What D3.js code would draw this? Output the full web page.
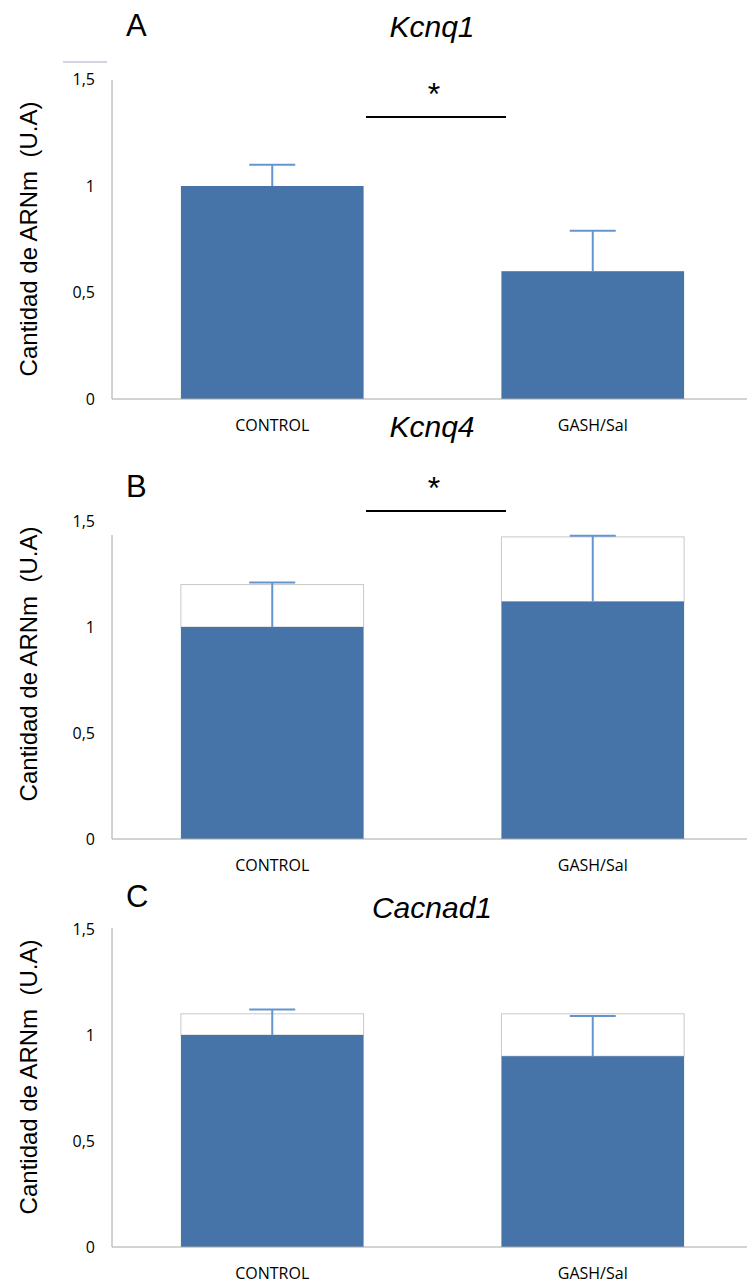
<!DOCTYPE html>
<html>
<head>
<meta charset="utf-8">
<script src="https://cdn.jsdelivr.net/npm/d3@7"></script>
<style>
  body { margin: 0; background: #fff; }
  svg text { font-family: "Liberation Sans", Arial, sans-serif; }
  .tick-lbl, .cat-lbl { font-family: "Open Sans", sans-serif; }
</style>
</head>
<body>
<div id="canvas"></div>
<script>
var categories = ['CONTROL', 'GASH/Sal'];
var genes = ['Kcnq1', 'Kcnq4', 'Cacnad1'];
var letters = ['A', 'B', 'C'];
var yTicks = [0, 0.5, 1, 1.5];
var yTickLabels = ['0', '0,5', '1', '1,5'];
var yLabel = 'Cantidad de ARNm  (U.A)';

var kcnq1Means = [1.0, 0.6];
var kcnq1Errors = [0.1, 0.19];
var kcnq1Boxes = [null, null];

var kcnq4Means = [1.0, 1.12];
var kcnq4Errors = [0.21, 0.31];
var kcnq4Boxes = [1.2, 1.425];

var cacnad1Means = [1.0, 0.9];
var cacnad1Errors = [0.12, 0.19];
var cacnad1Boxes = [1.1, 1.1];

var significant = [true, true, false];

var width = 747;
var height = 1285;
var axisX = 112;
var barBlue = '#4674a8';
var errBlue = '#6396cf';
var axisGray = '#a6a6a6';

// per panel layout (pixel geometry)
var panels = [
    {means: kcnq1Means, errors: kcnq1Errors, boxes: kcnq1Boxes, base: 399, top15: 79.5, axisTop: 80,
     letterY: 36, titleY: 37, starY: 105, sigY: 117, labelY: 239},
    {means: kcnq4Means, errors: kcnq4Errors, boxes: kcnq4Boxes, base: 839, top15: 521, axisTop: 535,
     letterY: 497, titleY: 437, starY: 499, sigY: 511, labelY: 664},
    {means: cacnad1Means, errors: cacnad1Errors, boxes: cacnad1Boxes, base: 1247, top15: 929, axisTop: 928,
     letterY: 907, titleY: 918, starY: null, sigY: null, labelY: 1077}
];

var svg = d3.select('#canvas')
    .append('svg')
    .attr('width', width)
    .attr('height', height);

var x = d3.scaleBand()
    .domain(categories)
    .range([axisX, 753])
    .paddingInner(0.43)
    .paddingOuter(0.215);

// stray line above panel A
svg.append('line')
    .attr('x1', 63).attr('x2', 107)
    .attr('y1', 62).attr('y2', 62)
    .style('stroke', '#a3abc0')
    .style('stroke-width', 1);

panels.forEach(function (p, i) {
    var y = d3.scaleLinear().domain([0, 1.5]).range([p.base, p.top15]);
    var g = svg.append('g');

    // white boxes (mean to mean + error)
    categories.forEach(function (c, j) {
        if (p.boxes[j] == null) return;
        g.append('rect')
            .attr('x', x(c))
            .attr('y', y(p.boxes[j]))
            .attr('width', x.bandwidth())
            .attr('height', y(p.means[j]) - y(p.boxes[j]))
            .style('fill', '#fff')
            .style('stroke', '#c8c8c8')
            .style('stroke-width', 1);
    });

    // bars
    g.selectAll('.bar')
        .data(categories)
        .enter()
        .append('rect')
        .attr('x', function (c) { return x(c); })
        .attr('y', function (c, j) { return y(p.means[j]); })
        .attr('width', x.bandwidth())
        .attr('height', function (c, j) { return y(0) - y(p.means[j]); })
        .style('fill', barBlue);

    // error bars
    categories.forEach(function (c, j) {
        var cx = x(c) + x.bandwidth() / 2;
        var yTop = y(p.means[j] + p.errors[j]);
        g.append('line')
            .attr('x1', cx).attr('x2', cx)
            .attr('y1', y(p.means[j])).attr('y2', yTop)
            .style('stroke', errBlue)
            .style('stroke-width', 2);
        g.append('line')
            .attr('x1', cx - 23).attr('x2', cx + 23)
            .attr('y1', yTop).attr('y2', yTop)
            .style('stroke', errBlue)
            .style('stroke-width', 2);
    });

    // axes
    g.append('line')
        .attr('x1', axisX).attr('x2', axisX)
        .attr('y1', p.axisTop).attr('y2', y(0))
        .style('stroke', axisGray)
        .style('stroke-width', 1);
    g.append('line')
        .attr('x1', axisX).attr('x2', width)
        .attr('y1', y(0)).attr('y2', y(0))
        .style('stroke', axisGray)
        .style('stroke-width', 1);

    g.selectAll('.tick-lbl')
        .data(yTicks)
        .enter()
        .append('text')
        .attr('class', 'tick-lbl')
        .attr('x', 95)
        .attr('y', function (d) { return y(d); })
        .attr('dy', '0.36em')
        .attr('text-anchor', 'end')
        .style('font-size', '16px')
        .style('fill', '#000')
        .text(function (d, k) { return yTickLabels[k]; });

    g.selectAll('.cat-lbl')
        .data(categories)
        .enter()
        .append('text')
        .attr('class', 'cat-lbl')
        .attr('x', function (c) { return x(c) + x.bandwidth() / 2; })
        .attr('y', y(0) + 32)
        .attr('text-anchor', 'middle')
        .style('font-size', '16px')
        .text(function (c) { return c; });

    // y label
    g.append('text')
        .attr('transform', 'translate(37,' + p.labelY + ') rotate(-90)')
        .attr('text-anchor', 'middle')
        .style('font-size', '24px')
        .style('white-space', 'pre')
        .text(yLabel);

    // panel letter and title
    g.append('text')
        .attr('x', 126)
        .attr('y', p.letterY)
        .style('font-size', '31px')
        .text(letters[i]);
    g.append('text')
        .attr('x', 432)
        .attr('y', p.titleY)
        .attr('text-anchor', 'middle')
        .style('font-size', '30px')
        .style('font-style', 'italic')
        .text(genes[i]);

    // significance
    if (significant[i]) {
        g.append('text')
            .attr('x', 434)
            .attr('y', p.starY)
            .attr('text-anchor', 'middle')
            .style('font-size', '32px')
            .text('*');
        g.append('line')
            .attr('x1', 366).attr('x2', 506)
            .attr('y1', p.sigY).attr('y2', p.sigY)
            .style('stroke', '#000')
            .style('stroke-width', 2);
    }
});
</script>
</body>
</html>
